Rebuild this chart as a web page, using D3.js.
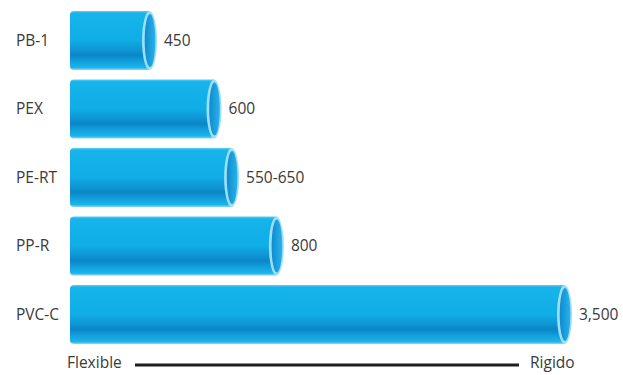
<!DOCTYPE html>
<html lang="es">
<head>
    <meta charset="UTF-8">
    <title>Flexibilidad de tuberías</title>
    <script src="https://d3js.org/d3.v7.min.js"></script>
    <style>
        body { margin: 0; background: #fff; }
        text { font-family: "Open Sans", "Noto Sans", sans-serif; fill: #3a3a3a; }
    </style>
</head>
<body>
    <script>
        // data
        var materials = ["PB-1", "PEX", "PE-RT", "PP-R", "PVC-C"];
        var minValues = [450, 600, 550, 800, 3500];
        var maxValues = [450, 600, 650, 800, 3500];
        var valueLabels = ["450", "600", "550-650", "800", "3,500"];
        var scaleEnds = ["Flexible", "Rigido"];

        var w = 623, h = 375;
        var x0 = 70;      // left end of every pipe
        var capRx = 7.5;  // half width of the open end
        var fontSize = "15.5px";

        var svg = d3.select("body").append("svg")
            .attr("width", w)
            .attr("height", h);

        var defs = svg.append("defs");

        // shading of the pipe body, top to bottom
        var body = defs.append("linearGradient")
            .attr("id", "pipeBody")
            .attr("x1", 0).attr("y1", 0).attr("x2", 0).attr("y2", 1);
        [["0%", "#5ccbf2"], ["4%", "#15b4ea"], ["50%", "#10ade6"], ["66%", "#0e96d4"],
         ["75%", "#0b86c7"], ["86%", "#12a1dd"], ["96%", "#1cb3ea"], ["100%", "#8ad8f5"]]
            .forEach(function(s) {
                body.append("stop").attr("offset", s[0]).attr("stop-color", s[1]);
            });

        // inside of the pipe, seen through the open end
        var hole = defs.append("linearGradient")
            .attr("id", "pipeHole")
            .attr("x1", 0).attr("y1", 0).attr("x2", 1).attr("y2", 0);
        hole.append("stop").attr("offset", "0%").attr("stop-color", "#0d8bcf");
        hole.append("stop").attr("offset", "100%").attr("stop-color", "#2ab2e8");

        // bands for the rows
        var y = d3.scaleBand()
            .domain(materials)
            .range([11, 344])
            .paddingInner(0.14);

        // right end of the pipe, a compressed scale
        var x = d3.scalePow()
            .exponent(-0.12)
            .domain([450, 3500])
            .range([157, 572]);

        var rows = svg.selectAll("g.pipe")
            .data(materials)
            .enter()
            .append("g")
            .attr("class", "pipe")
            .attr("transform", function(d) { return "translate(0," + y(d) + ")"; });

        var bw = y.bandwidth();

        // body with slightly rounded left corners
        rows.append("path")
            .attr("d", function(d, i) {
                var cx = x(maxValues[i]) - capRx;
                var r = 4;
                return "M" + cx + ",0 L" + (x0 + r) + ",0 Q" + x0 + ",0 " + x0 + "," + r +
                       " L" + x0 + "," + (bw - r) + " Q" + x0 + "," + bw + " " + (x0 + r) + "," + bw +
                       " L" + cx + "," + bw + " Z";
            })
            .attr("fill", "url(#pipeBody)");

        // rim of the open end
        rows.append("ellipse")
            .attr("cx", function(d, i) { return x(maxValues[i]) - capRx; })
            .attr("cy", bw / 2)
            .attr("rx", capRx)
            .attr("ry", bw / 2)
            .attr("fill", "#9be0f8");

        rows.append("ellipse")
            .attr("cx", function(d, i) { return x(maxValues[i]) - capRx + 0.5; })
            .attr("cy", bw / 2)
            .attr("rx", capRx - 2.2)
            .attr("ry", bw / 2 - 3)
            .attr("fill", "url(#pipeHole)");

        // material names
        rows.append("text")
            .attr("x", 16)
            .attr("y", bw / 2)
            .attr("dy", "0.35em")
            .style("font-size", fontSize)
            .text(function(d) { return d; });

        // values next to the open end
        rows.append("text")
            .attr("x", function(d, i) { return x(maxValues[i]) + 7; })
            .attr("y", bw / 2)
            .attr("dy", "0.35em")
            .style("font-size", fontSize)
            .text(function(d, i) { return valueLabels[i]; });

        // flexible -> rigid axis at the bottom
        svg.append("text")
            .attr("x", 67)
            .attr("y", 363)
            .attr("dy", "0.35em")
            .style("font-size", fontSize)
            .text(scaleEnds[0]);

        svg.append("line")
            .attr("x1", 135).attr("x2", 519)
            .attr("y1", 365).attr("y2", 365)
            .attr("stroke", "#1e1e1e")
            .attr("stroke-width", 3);

        svg.append("text")
            .attr("x", 530)
            .attr("y", 363)
            .attr("dy", "0.35em")
            .style("font-size", fontSize)
            .text(scaleEnds[1]);
    </script>
</body>
</html>
